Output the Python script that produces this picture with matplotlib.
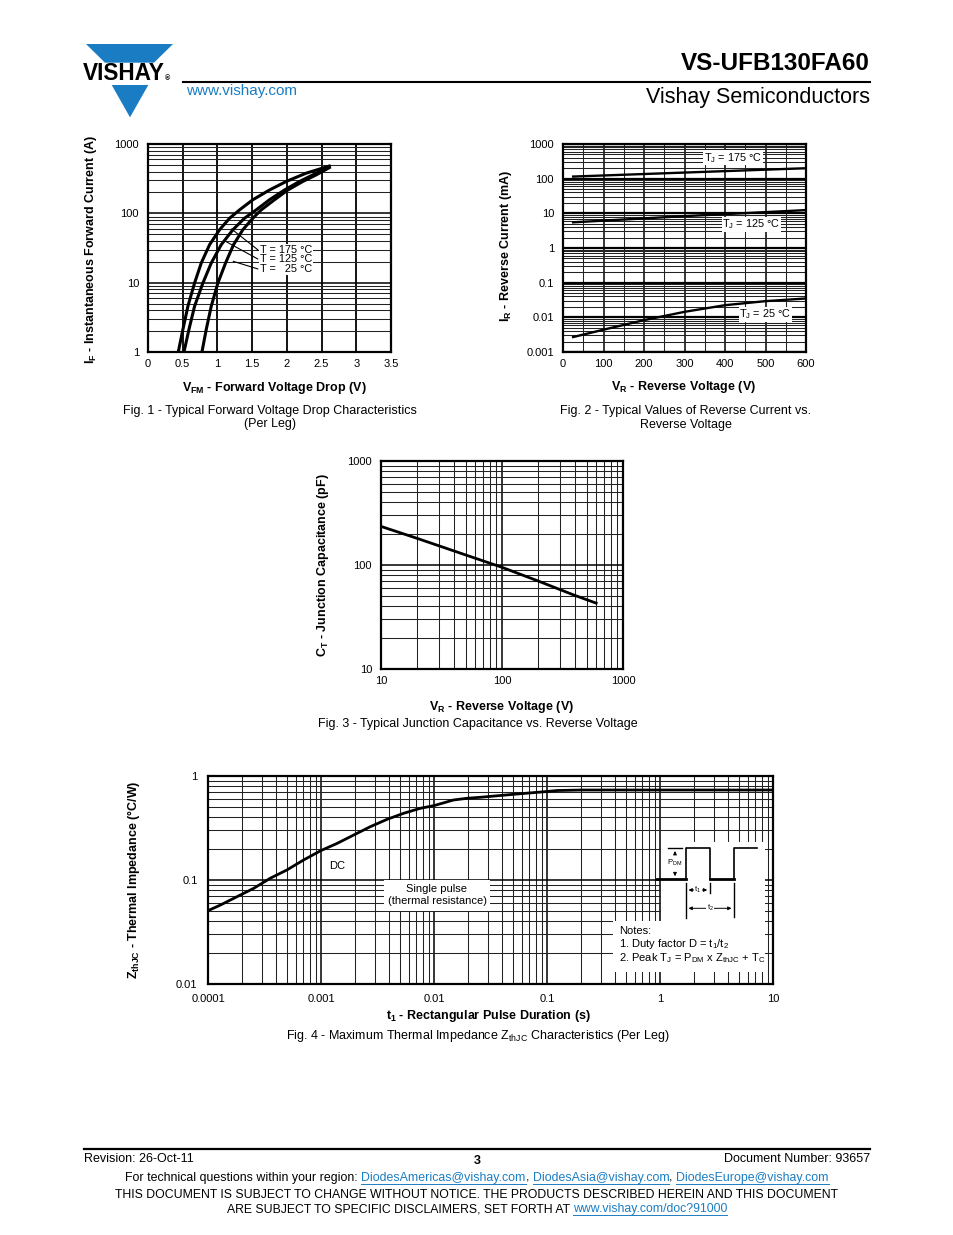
import numpy as np
import matplotlib
matplotlib.use("Agg")
import matplotlib.pyplot as plt
from matplotlib.ticker import MultipleLocator, LogLocator, NullFormatter, FixedLocator, FixedFormatter
from matplotlib.patches import Polygon, Rectangle

plt.rcParams['font.family'] = ['Liberation Sans', 'DejaVu Sans']
plt.rcParams['mathtext.fontset'] = 'custom'
plt.rcParams['mathtext.rm'] = 'Liberation Sans'
plt.rcParams['mathtext.it'] = 'Liberation Sans'
plt.rcParams['mathtext.bf'] = 'Liberation Sans:bold'
plt.rcParams['mathtext.default'] = 'regular'

W, H = 954, 1235
BLUE = "#1a7dc3"

# ---- Fig. 1 - forward voltage drop
vf_175 = [0.436, 0.503, 0.575, 0.671, 0.767, 0.887, 1.031, 1.175, 1.318, 1.510, 1.750, 1.990, 2.277, 2.61]
if_175 = [1, 2.12, 4.58, 9.9, 19.2, 35.3, 58, 85, 112, 157, 217, 288, 379, 480]
vf_125 = [0.518, 0.590, 0.671, 0.791, 0.911, 1.055, 1.223, 1.39, 1.558, 1.75, 1.966, 2.182, 2.373, 2.61]
if_125 = [1, 2.12, 4.58, 9.9, 19.2, 35.3, 58, 85, 112, 157, 217, 288, 358, 470]
vf_25 = [0.777, 0.839, 0.911, 1.007, 1.117, 1.232, 1.366, 1.510, 1.630, 1.822, 2.014, 2.229, 2.421, 2.61]
if_25 = [1, 2.12, 4.58, 9.9, 19.2, 35.3, 58, 85, 112, 157, 217, 288, 358, 455]
fig1_labels = ["T = 175 °C", "T = 125 °C", "T =   25 °C"]
fig1_label_pos = [(1.61, 29.9), (1.61, 22.0), (1.61, 15.8)]
fig1_leader_end = [(1.205, 59.3), (1.134, 38.6), (1.229, 20.3)]

# ---- Fig. 2 - reverse current
vr_175 = [25, 300, 600]
ir_175 = [115, 150, 200]
vr_125 = [25, 300, 600]
ir_125 = [5.5, 8.3, 12.4]
vr_25 = [25, 100, 200, 300, 400, 500, 600]
ir_25 = [0.0027, 0.0044, 0.0083, 0.0144, 0.0224, 0.0293, 0.035]
fig2_labels = ["T$_J$ = 175 °C", "T$_J$ = 125 °C", "T$_J$ = 25 °C"]
fig2_label_pos = [(348, 400), (393, 4.9), (435, 0.0123)]

# ---- Fig. 3 - junction capacitance
vr_cap = [10, 20, 50, 100, 200, 400, 600]
ct_cap = [235, 180, 125, 95, 70, 51, 43]

# ---- Fig. 4 - thermal impedance
t_pulse = [1e-4, 1.29e-4, 1.81e-4, 2.54e-4, 3.56e-4, 5.0e-4, 7.03e-4, 1e-3, 1.39e-3, 1.95e-3,
           2.74e-3, 3.84e-3, 5.39e-3, 7.57e-3, 1e-2, 1.49e-2, 2.0e-2, 2.57e-2, 5.07e-2, 9.66e-2,
           0.123, 0.2, 1, 10]
z_thjc = [0.0507, 0.0575, 0.0692, 0.0832, 0.104, 0.125, 0.156, 0.192, 0.225, 0.271,
          0.326, 0.383, 0.438, 0.489, 0.519, 0.588, 0.612, 0.624, 0.667, 0.707,
          0.725, 0.733, 0.733, 0.733]
fig4_xticks = [1e-4, 1e-3, 1e-2, 1e-1, 1, 10]
fig4_xticklabels = ["0.0001", "0.001", "0.01", "0.1", "1", "10"]
fig4_yticks = [0.01, 0.1, 1]
fig4_yticklabels = ["0.01", "0.1", "1"]


def ax_rect(l, t, r, b):
    return [l / W, 1 - b / H, (r - l) / W, (b - t) / H]


def style_axes(ax, xpad=5, ypad=6.5):
    ax.tick_params(which="both", length=0, labelsize=8, colors="black")
    ax.tick_params(axis="x", pad=xpad)
    ax.tick_params(axis="y", pad=ypad)
    for s in ax.spines.values():
        s.set_linewidth(1.6)
    ax.grid(which="major", color="black", lw=1.1)
    ax.grid(which="minor", color="#222222", lw=0.75)
    ax.set_axisbelow(True)


def log_minor(ax, axis="y"):
    loc = LogLocator(base=10, subs=np.arange(2, 10), numticks=20)
    if axis == "y":
        ax.yaxis.set_minor_locator(loc)
        ax.yaxis.set_minor_formatter(NullFormatter())
    else:
        ax.xaxis.set_minor_locator(loc)
        ax.xaxis.set_minor_formatter(NullFormatter())


def plain_log_labels(ax, axis, ticks):
    labels = [("%g" % v) if v >= 1 else ("%.10f" % v).rstrip("0") for v in ticks]
    if axis == "y":
        ax.yaxis.set_major_locator(FixedLocator(ticks))
        ax.yaxis.set_major_formatter(FixedFormatter(labels))
    else:
        ax.xaxis.set_major_locator(FixedLocator(ticks))
        ax.xaxis.set_major_formatter(FixedFormatter(labels))


fig = plt.figure(figsize=(W / 100, H / 100), dpi=100)

# page furniture lives on a full-page axes in pixel units
bg = fig.add_axes([0, 0, 1, 1], zorder=-5)
bg.set_xlim(0, W)
bg.set_ylim(H, 0)
bg.axis("off")


def axis_label(x, y, s, rot=0):
    bg.text(x, y, s, fontsize=9, fontweight="bold", ha="center", va="center", rotation=rot)


# ================= Fig. 1
ax1 = fig.add_axes(ax_rect(148, 144, 391, 352))
ax1.plot(vf_175, if_175, color="black", lw=2.2, zorder=3)
ax1.plot(vf_125, if_125, color="black", lw=2.2, zorder=3)
ax1.plot(vf_25, if_25, color="black", lw=2.2, zorder=3)
ax1.set_yscale("log")
ax1.set_xlim(0, 3.5)
ax1.set_ylim(1, 1000)
ax1.xaxis.set_major_locator(MultipleLocator(0.5))
ax1.xaxis.set_major_formatter(plt.FuncFormatter(lambda v, p: "%g" % v))
plain_log_labels(ax1, "y", [1, 10, 100, 1000])
log_minor(ax1, "y")
style_axes(ax1)
ax1.grid(which="major", axis="x", color="black", lw=1.3)
for lab, (lx, ly), (ex, ey) in zip(fig1_labels, fig1_label_pos, fig1_leader_end):
    ax1.plot([lx - 0.03, ex], [ly, ey], color="black", lw=0.8, zorder=2)
    ax1.text(lx, ly, lab, fontsize=7.8, va="center", ha="left", zorder=4,
             bbox=dict(fc="white", ec="none", pad=0.5))
axis_label(274, 388, "V$_{FM}$ - Forward Voltage Drop (V)")
axis_label(91, 250, "I$_F$ - Instantaneous Forward Current (A)", 90)

# ================= Fig. 2
ax2 = fig.add_axes(ax_rect(563, 144, 806, 352))
ax2.plot(vr_175, ir_175, color="black", lw=1.7, zorder=3)
ax2.plot(vr_125, ir_125, color="black", lw=1.7, zorder=3)
ax2.plot(vr_25, ir_25, color="black", lw=1.7, zorder=3)
ax2.set_yscale("log")
ax2.set_xlim(0, 600)
ax2.set_ylim(0.001, 1000)
ax2.xaxis.set_major_locator(MultipleLocator(100))
ax2.xaxis.set_minor_locator(MultipleLocator(50))
plain_log_labels(ax2, "y", [0.001, 0.01, 0.1, 1, 10, 100, 1000])
log_minor(ax2, "y")
style_axes(ax2)
ax2.grid(which="major", axis="y", color="black", lw=1.6)
for lab, (lx, ly) in zip(fig2_labels, fig2_label_pos):
    ax2.text(lx, ly, lab, fontsize=7.8, va="center", ha="left", zorder=4,
             bbox=dict(fc="white", ec="none", pad=0.5))
axis_label(684, 387, "V$_R$ - Reverse Voltage (V)")
axis_label(506, 246, "I$_R$ - Reverse Current (mA)", 90)

# ================= Fig. 3
ax3 = fig.add_axes(ax_rect(381, 461, 623, 669))
ax3.plot(vr_cap, ct_cap, color="black", lw=2.0, zorder=3)
ax3.set_xscale("log")
ax3.set_yscale("log")
ax3.set_xlim(10, 1000)
ax3.set_ylim(10, 1000)
plain_log_labels(ax3, "x", [10, 100, 1000])
plain_log_labels(ax3, "y", [10, 100, 1000])
log_minor(ax3, "x")
log_minor(ax3, "y")
style_axes(ax3)
axis_label(502, 707, "V$_R$ - Reverse Voltage (V)")
axis_label(323, 565, "C$_T$ - Junction Capacitance (pF)", 90)

# ================= Fig. 4
ax4 = fig.add_axes(ax_rect(208, 776, 773, 984))
ax4.plot(t_pulse, z_thjc, color="black", lw=2.0, zorder=3)
ax4.set_xscale("log")
ax4.set_yscale("log")
ax4.set_xlim(1e-4, 10)
ax4.set_ylim(0.01, 1)
ax4.xaxis.set_major_locator(FixedLocator(fig4_xticks))
ax4.xaxis.set_major_formatter(FixedFormatter(fig4_xticklabels))
ax4.yaxis.set_major_locator(FixedLocator(fig4_yticks))
ax4.yaxis.set_major_formatter(FixedFormatter(fig4_yticklabels))
log_minor(ax4, "x")
log_minor(ax4, "y")
style_axes(ax4, xpad=7, ypad=7.5)


def fx4(px):
    return (px - 208) / 565


def fy4(py):
    return (984 - py) / 208


def px_box(ax, l, t, r, b):
    # white box given in page pixels
    ax.add_patch(Rectangle((fx4(l), fy4(b)), fx4(r) - fx4(l), fy4(t) - fy4(b), transform=ax.transAxes,
                           fc="white", ec="none", zorder=1))


px_box(ax4, 384, 880, 490, 911)
px_box(ax4, 661, 842, 765, 921)
px_box(ax4, 613, 921, 765, 972)

ax4.text(fx4(337), fy4(866), "DC", transform=ax4.transAxes, fontsize=8, ha="center", va="center")
ax4.text(fx4(437), fy4(895.5), "Single pulse\n(thermal resistance)", transform=ax4.transAxes,
         fontsize=8, ha="center", va="center", linespacing=1.25)
ax4.text(fx4(619), fy4(945.5), "Notes:\n1. Duty factor D = t$_1$/t$_2$\n2. Peak T$_J$ = P$_{DM}$ x Z$_{thJC}$ + T$_C$",
         transform=ax4.transAxes, fontsize=8, ha="left", va="center", linespacing=1.08)

# pulse sketch (inset in local pixel units)
ins = ax4.inset_axes([fx4(655), fy4(925), 115 / 565, 85 / 208])
ins.set_xlim(0, 115)
ins.set_ylim(85, 0)
ins.axis("off")
low, high = 39, 8.3
xr1, xf1, xr2, xend = 30.7, 55, 79.3, 101.7
ins.plot([2.3, xr1], [low, low], color="black", lw=2.0)
ins.plot([xf1, xr2], [low, low], color="black", lw=2.0)
ins.plot([xr1, xr1, xf1, xf1], [low, high, high, low], color="black", lw=1.2)
ins.plot([xr2, xr2, xend], [low, high, high], color="black", lw=1.2)
ins.plot([12.7, 26.7], [high, high], color="black", lw=1.0)
arrow = dict(arrowstyle="-|>", lw=0.7, color="black", mutation_scale=5)
arrow2 = dict(arrowstyle="<|-|>", lw=0.7, color="black", mutation_scale=5)
ins.annotate("", xy=(20, high), xytext=(20, 16), arrowprops=arrow)
ins.annotate("", xy=(20, low), xytext=(20, 31), arrowprops=arrow)
ins.text(20, 23, "P$_{DM}$", fontsize=5.5, ha="center", va="center")
ins.plot([xr1, xr1], [43.3, 78.3], color="black", lw=1.0)
ins.plot([xf1, xf1], [43.3, 53.3], color="black", lw=1.0)
ins.plot([xr2, xr2], [43.3, 76.7], color="black", lw=1.0)
ins.annotate("", xy=(xr1, 50), xytext=(xf1, 50), arrowprops=arrow2)
ins.text((xr1 + xf1) / 2, 50, "t$_1$", fontsize=5.5, ha="center", va="center",
         bbox=dict(fc="white", ec="none", pad=0.3))
ins.annotate("", xy=(xr1, 68.3), xytext=(xr2, 68.3), arrowprops=arrow2)
ins.text((xr1 + xr2) / 2, 68.3, "t$_2$", fontsize=5.5, ha="center", va="center",
         bbox=dict(fc="white", ec="none", pad=0.3))

axis_label(488, 1016, "t$_1$ - Rectangular Pulse Duration (s)")
axis_label(134, 880, "Z$_{thJC}$ - Thermal Impedance (°C/W)", 90)

# ================= header
bg.add_patch(Polygon([(86, 44), (173, 44), (154, 62.7), (105, 62.7)], closed=True, fc=BLUE, ec="none"))
bg.add_patch(Polygon([(111.7, 85), (148.3, 85), (130, 117.3)], closed=True, fc=BLUE, ec="none"))
bg.text(83, 73.5, "VISHAY", fontsize=16.3, fontweight="bold", ha="left", va="center")
bg.text(168, 79, "®", fontsize=5, fontweight="bold", ha="center", va="center")

bg.text(186, 91, "www.vishay.com", fontsize=11, color=BLUE, ha="left", va="center")
bg.text(870, 64, "VS-UFB130FA60", fontsize=17.5, fontweight="bold", ha="right", va="center")
bg.plot([183, 870], [82, 82], color="black", lw=1.5)
bg.text(870, 98, "Vishay Semiconductors", fontsize=15.5, ha="right", va="center")

# captions
bg.text(270, 411, "Fig. 1 - Typical Forward Voltage Drop Characteristics", fontsize=9, ha="center", va="center")
bg.text(270, 424, "(Per Leg)", fontsize=9, ha="center", va="center")
bg.text(686, 411, "Fig. 2 - Typical Values of Reverse Current vs.", fontsize=9, ha="center", va="center")
bg.text(686, 425, "Reverse Voltage", fontsize=9, ha="center", va="center")
bg.text(478, 724, "Fig. 3 - Typical Junction Capacitance vs. Reverse Voltage", fontsize=9, ha="center", va="center")
bg.text(478, 1036, "Fig. 4 - Maximum Thermal Impedance Z$_{thJC}$ Characteristics (Per Leg)", fontsize=9,
        ha="center", va="center")

# footer
bg.plot([84, 870], [1149, 1149], color="black", lw=1.6)
bg.text(84, 1159, "Revision: 26-Oct-11", fontsize=9, ha="left", va="center")
bg.text(477, 1161, "3", fontsize=9, fontweight="bold", ha="center", va="center")
bg.text(870, 1159, "Document Number: 93657", fontsize=9, ha="right", va="center")

renderer = fig.canvas.get_renderer()


def run_line(xc, y, pieces, size=8.95):
    # lay out text pieces side by side, centred on xc, underline the blue links
    texts = []
    for s, link in pieces:
        t = bg.text(0, y, s, fontsize=size, ha="left", va="center", color=BLUE if link else "black")
        texts.append(t)
    widths = [t.get_window_extent(renderer).width for t in texts]
    x = xc - sum(widths) / 2
    for t, w, (s, link) in zip(texts, widths, pieces):
        t.set_x(x)
        if link:
            bg.plot([x, x + w], [y + 6, y + 6], color=BLUE, lw=0.7)
        x += w


run_line(477, 1178, [("For technical questions within your region: ", False),
                     ("DiodesAmericas@vishay.com", True), (", ", False),
                     ("DiodesAsia@vishay.com", True), (", ", False),
                     ("DiodesEurope@vishay.com", True)])
run_line(477, 1195, [("THIS DOCUMENT IS SUBJECT TO CHANGE WITHOUT NOTICE. THE PRODUCTS DESCRIBED HEREIN AND THIS DOCUMENT", False)],
         size=8.8)
run_line(477, 1209, [("ARE SUBJECT TO SPECIFIC DISCLAIMERS, SET FORTH AT ", False),
                     ("www.vishay.com/doc?91000", True)], size=8.8)

fig.savefig("out.png", dpi=100)
